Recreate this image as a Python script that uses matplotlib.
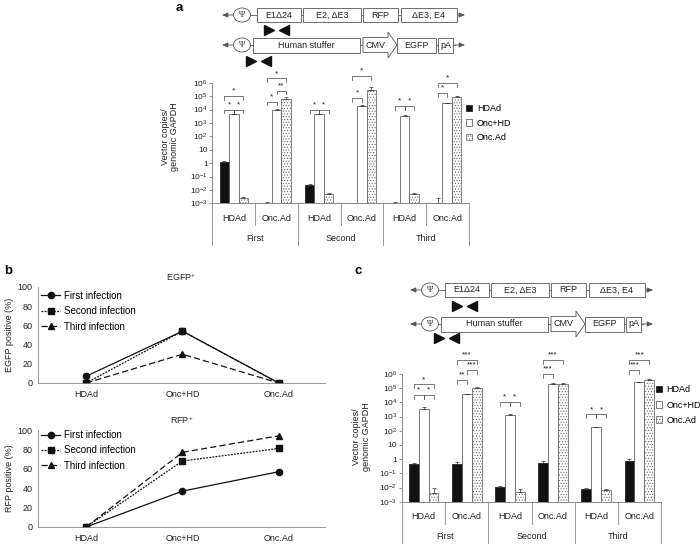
import numpy as np
import matplotlib
matplotlib.use('Agg')
import matplotlib.pyplot as plt
from matplotlib.patches import Rectangle, Ellipse, Polygon, Patch
from matplotlib.transforms import blended_transform_factory
from matplotlib.ticker import FixedLocator, FuncFormatter, NullLocator

plt.rcParams['font.family'] = ['Liberation Sans', 'DejaVu Sans']
plt.rcParams['mathtext.default'] = 'regular'
plt.rcParams['hatch.linewidth'] = 0.4

# ---- data ----
series = ['HDAd', 'Onc+HD', 'Onc.Ad']
sub_labels = ['HDAd', 'Onc.Ad', 'HDAd', 'Onc.Ad', 'HDAd', 'Onc.Ad']
group_labels = ['First', 'Second', 'Third']

# panel a (vector copies / genomic GAPDH), nan = no bar
a_hdad = [1.3, 0.0011, 0.022, np.nan, 0.0011, 0.0011]
a_onchd = [4400, 1.0e4, 4400, 1.8e4, 3500, 3.0e4]
a_oncad = [0.0023, 5.8e4, 0.005, 3.0e5, 0.005, 9.0e4]
a_hdad_top = [1.45, 0.00115, 0.026, np.nan, 0.0012, 0.0025]
a_onchd_top = [5000, 1.1e4, 4900, 2.0e4, 3800, 3.3e4]
a_oncad_top = [0.003, 9.0e4, 0.0057, 4.5e5, 0.0058, 9.5e4]
# (group, bar1, bar2, height, label)
a_sig = [(0, 0, 1, 1e4, '*'), (0, 1, 2, 1e4, '*'), (0, 0, 2, 1e5, '*'),
         (1, 0, 1, 10**4.58, '*'), (1, 1, 2, 10**5.4, '**'), (1, 0, 2, 10**6.33, '*'),
         (2, 0, 1, 10**3.96, '*'), (2, 1, 2, 10**3.96, '*'),
         (3, 0, 1, 10**4.85, '*'), (3, 0, 2, 10**6.5, '*'),
         (4, 0, 1, 10**4.25, '*'), (4, 1, 2, 10**4.25, '*'),
         (5, 0, 1, 10**5.23, '*'), (5, 0, 2, 10**5.97, '*')]

# panel c
c_hdad = [0.43, 0.48, 0.011, 0.55, 0.008, 0.8]
c_onchd = [3500, 3.6e4, 1300, 2.0e5, 170, 2.6e5]
c_oncad = [0.004, 1.1e5, 0.0045, 2.0e5, 0.007, 3.7e5]
c_hdad_top = [0.5, 0.58, 0.013, 0.8, 0.0088, 1.0]
c_onchd_top = [5000, 3.8e4, 1450, 2.2e5, 190, 2.9e5]
c_oncad_top = [0.009, 1.15e5, 0.0075, 2.2e5, 0.0082, 4.6e5]
c_sig = [(0, 0, 1, 10**4.5, '*'), (0, 1, 2, 10**4.5, '*'), (0, 0, 2, 10**5.27, '*'),
         (1, 0, 1, 10**5.57, '**'), (1, 1, 2, 10**6.27, '***'), (1, 0, 2, 10**7.0, '***'),
         (2, 0, 1, 10**4.04, '*'), (2, 1, 2, 10**4.04, '*'),
         (3, 0, 1, 10**6.0, '***'), (3, 0, 2, 10**7.0, '***'),
         (4, 0, 1, 10**3.15, '*'), (4, 1, 2, 10**3.15, '*'),
         (5, 0, 1, 10**6.27, '***'), (5, 0, 2, 10**7.0, '***')]

# panel b (% positive)
b_cats = ['HDAd', 'Onc+HD', 'Onc.Ad']
b_names = ['First infection', 'Second infection', 'Third infection']
egfp_first = [7, 54, 0]
egfp_second = [0, 54, 0]
egfp_third = [0, 30, 0]
rfp_first = [0, 37, 57]
rfp_second = [0, 68, 81]
rfp_third = [0, 77, 94]

W, H = 700, 544
fig = plt.figure(figsize=(7, 5.44), dpi=100)


def px_axes(l, t, r, b):
    return fig.add_axes([l / W, 1 - b / H, (r - l) / W, (b - t) / H])


# overlay in pixel units for the construct schematics and panel letters
ov = fig.add_axes([0, 0, 1, 1])
ov.set_xlim(0, W)
ov.set_ylim(H, 0)
ov.axis('off')

LC = '#555555'


def arrow(x0, x1, y):
    ov.annotate('', xy=(x1, y), xytext=(x0, y),
                arrowprops=dict(arrowstyle='-|>,head_length=0.35,head_width=0.15',
                                lw=0.6, color=LC, shrinkA=0, shrinkB=0))


def box(x0, x1, y, hh, label):
    ov.add_patch(Rectangle((x0, y - hh), x1 - x0, 2 * hh, fc='white', ec=LC, lw=0.6, zorder=3))
    ov.text((x0 + x1) / 2, y, label, ha='center', va='center', fontsize=6.5, color='#222', zorder=4)


def psi(x, y):
    ov.add_patch(Ellipse((x, y), 17, 14, fc='white', ec=LC, lw=0.6, zorder=3))
    ov.text(x, y, 'Ψ', ha='center', va='center', fontsize=6, family='Liberation Serif',
            color='#222', zorder=4)


def draw_constructs(dx, y1, y2, t1, t2):
    # oncolytic vector
    ov.plot([250 + dx, 457 + dx], [y1, y1], color=LC, lw=0.6)
    arrow(234 + dx, 222 + dx, y1)
    arrow(457 + dx, 465 + dx, y1)
    psi(242 + dx, y1)
    for lab, x0, x1 in [('E1Δ24', 257, 301), ('E2, ΔE3', 303, 361),
                        ('RFP', 363, 398), ('ΔE3, E4', 401, 457)]:
        box(x0 + dx, x1 + dx, y1, 6.8, lab)
    ov.plot([269 + dx], [t1], marker='>', ms=6.5, color='#111', ls='none')
    ov.plot([284 + dx], [t1], marker='<', ms=6.5, color='#111', ls='none')
    # helper-dependent vector
    ov.plot([250 + dx, 455 + dx], [y2, y2], color=LC, lw=0.6)
    arrow(234 + dx, 222 + dx, y2)
    arrow(453 + dx, 465 + dx, y2)
    psi(242 + dx, y2)
    box(253 + dx, 360 + dx, y2, 7.5, 'Human stuffer')
    ov.add_patch(Polygon([(363 + dx, y2 - 7.5), (388 + dx, y2 - 7.5), (388 + dx, y2 - 13),
                          (397 + dx, y2), (388 + dx, y2 + 13), (388 + dx, y2 + 7.5),
                          (363 + dx, y2 + 7.5)], closed=True, fc='white', ec=LC, lw=0.6, zorder=3))
    ov.text(376 + dx, y2, 'CMV', ha='center', va='center', fontsize=6.5, color='#222', zorder=4)
    box(397 + dx, 436 + dx, y2, 7.5, 'EGFP')
    box(438 + dx, 453 + dx, y2, 7.5, 'pA')
    ov.plot([251 + dx], [t2], marker='>', ms=6.5, color='#111', ls='none')
    ov.plot([266 + dx], [t2], marker='<', ms=6.5, color='#111', ls='none')


draw_constructs(0, 15, 45, 30, 61)
draw_constructs(188, 290, 324, 306, 338)

ov.text(179, 8, 'a', fontsize=9.5, fontweight='bold', ha='center', va='center')
ov.text(8, 271, 'b', fontsize=9.5, fontweight='bold', ha='center', va='center')
ov.text(358, 271, 'c', fontsize=9.5, fontweight='bold', ha='center', va='center')


def log_fmt(v, pos):
    e = int(round(np.log10(v)))
    if e == 0:
        return '1'
    if e == 1:
        return '10'
    return r'$10^{%d}$' % e


def bar_panel(ax, vals, tops, sig, w, h_px, leg_xy, leg_sp):
    floor = 1e-3
    ax.set_yscale('log')
    ax.set_ylim(1e-3, 1e6)
    ax.set_xlim(-0.5, 5.5)
    styles = [dict(color='#111111', edgecolor='#111111'),
              dict(color='white', edgecolor='#444444'),
              dict(color='white', edgecolor='#555555', hatch='......')]
    for j in range(3):
        v = np.array(vals[j], float)
        t = np.array(tops[j], float)
        x = np.arange(6) + (j - 1) * w
        ok = ~np.isnan(v)
        ax.bar(x[ok], v[ok] - floor, bottom=floor, width=w, lw=0.5, **styles[j])
        ax.errorbar(x[ok], v[ok], yerr=[np.zeros(ok.sum()), t[ok] - v[ok]], fmt='none',
                    ecolor='#333333', elinewidth=0.5, capsize=1.3, capthick=0.5)
    for g, b1, b2, y, lab in sig:
        x1 = g + (b1 - 1) * w
        x2 = g + (b2 - 1) * w
        leg = y / 10 ** 0.28
        ax.plot([x1, x1, x2, x2], [leg, y, y, leg], color='#444444', lw=0.5, clip_on=False)
        ax.text((x1 + x2) / 2, y * 10 ** 0.1, lab, ha='center', va='bottom', fontsize=6,
                color='#222', clip_on=False)
    ax.yaxis.set_major_locator(FixedLocator(10.0 ** np.arange(-3, 7)))
    ax.yaxis.set_major_formatter(FuncFormatter(log_fmt))
    ax.yaxis.set_minor_locator(NullLocator())
    ax.set_xticks([])
    ax.tick_params(axis='y', labelsize=6, length=2, width=0.5, pad=1.5, colors='#666',
                   labelcolor='#222')
    for s in ['top', 'right']:
        ax.spines[s].set_visible(False)
    for s in ['left', 'bottom']:
        ax.spines[s].set_linewidth(0.6)
        ax.spines[s].set_color('#777777')
    tr = blended_transform_factory(ax.transData, ax.transAxes)
    for i, lab in enumerate(sub_labels):
        ax.text(i, -15 / h_px, lab, transform=tr, ha='center', va='center', fontsize=6.5,
                color='#222')
    for i, lab in enumerate(group_labels):
        ax.text(2 * i + 0.5, -35 / h_px, lab, transform=tr, ha='center', va='center',
                fontsize=6.5, color='#222')
    for i in range(7):
        bot = -42 / h_px if i % 2 == 0 else -22 / h_px
        ax.plot([i - 0.5, i - 0.5], [0, bot], transform=tr, color='#888888', lw=0.6,
                clip_on=False)
    handles = [Patch(facecolor=styles[k]['color'], edgecolor=styles[k]['edgecolor'],
                     hatch=styles[k].get('hatch'), lw=0.5, label=series[k]) for k in range(3)]
    ax.legend(handles=handles, loc='upper left', bbox_to_anchor=leg_xy, frameon=False,
              fontsize=6.5, handlelength=0.7, handleheight=0.7, handletextpad=0.5,
              labelspacing=leg_sp, borderpad=0, borderaxespad=0)
    ax.set_ylabel('Vector copies/\ngenomic GAPDH', fontsize=6.5, color='#222', linespacing=1.1)


ax_a = px_axes(212.5, 82.7, 468.5, 203.3)
bar_panel(ax_a, [a_hdad, a_onchd, a_oncad], [a_hdad_top, a_onchd_top, a_oncad_top],
          a_sig, 0.22, 120.6, (0.99, 0.82), 0.58)
ax_a.yaxis.set_label_coords(-0.13, 0.55)

ax_c = px_axes(402, 374, 661, 501.7)
bar_panel(ax_c, [c_hdad, c_onchd, c_oncad], [c_hdad_top, c_onchd_top, c_oncad_top],
          c_sig, 0.23, 127.7, (0.98, 0.91), 0.68)
ax_c.yaxis.set_label_coords(-0.12, 0.51)


def line_panel(ax, first, second, third, title, ylab, leg_y):
    x = np.arange(len(b_cats))
    ax.plot(x, first, color='#111', lw=0.9, ls='-', marker='o', ms=4.5, label=b_names[0])
    ax.plot(x, second, color='#111', lw=0.9, ls=(0, (1.5, 1)), marker='s', ms=4.5,
            label=b_names[1])
    ax.plot(x, third, color='#111', lw=0.9, ls=(0, (5, 2.5)), marker='^', ms=4.5,
            label=b_names[2])
    ax.set_xlim(-0.5, 2.48)
    ax.set_ylim(0, 100)
    ax.set_yticks(range(0, 101, 20))
    ax.set_xticks(x)
    ax.set_xticklabels(b_cats)
    ax.tick_params(length=0, labelsize=6.5, labelcolor='#222', pad=5)
    ax.tick_params(axis='y', pad=4)
    for s in ['top', 'right']:
        ax.spines[s].set_visible(False)
    for s in ['left', 'bottom']:
        ax.spines[s].set_linewidth(0.6)
        ax.spines[s].set_color('#888888')
    ax.set_title(title, fontsize=6.5, color='#222', pad=4)
    ax.set_ylabel(ylab, fontsize=6.5, color='#222')
    ax.yaxis.set_label_coords(-0.085, 0.5)
    ax.legend(loc='upper left', bbox_to_anchor=(0.01, leg_y), frameon=False, fontsize=7,
              handlelength=2.0, handletextpad=0.4, labelspacing=0.55, borderpad=0,
              borderaxespad=0)


ax_e = px_axes(38, 287, 325, 383)
line_panel(ax_e, egfp_first, egfp_second, egfp_third, r'EGFP$^{+}$', 'EGFP positive (%)', 0.96)
ax_r = px_axes(38, 430, 325, 527)
line_panel(ax_r, rfp_first, rfp_second, rfp_third, r'RFP$^{+}$', 'RFP positive (%)', 1.0)

fig.savefig('out.png', dpi=100)
